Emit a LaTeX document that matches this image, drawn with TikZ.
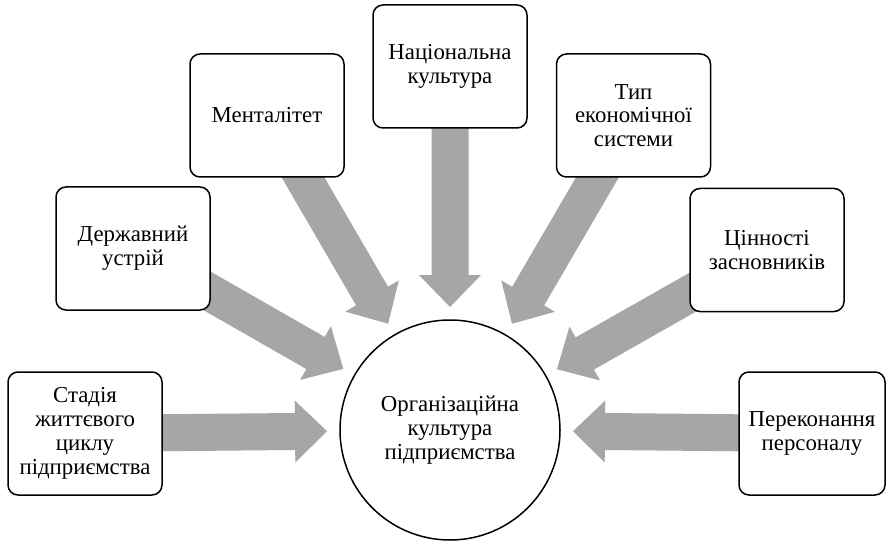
\documentclass[tikz,border=0pt]{standalone}
\usepackage{fontspec}
\setmainfont{Liberation Serif}
\usetikzlibrary{calc,backgrounds}
\definecolor{arrowgray}{HTML}{A6A6A6}
\tikzset{
  factor/.style={draw=black, line width=1.5pt, rounded corners=10pt, fill=white,
    minimum width=154pt, minimum height=123pt, align=center, inner sep=2pt,
    font=\fontsize{22.8}{23.8}\selectfont},
  core/.style={circle, draw=black, line width=1.5pt, fill=white,
    minimum size=220pt, align=center, inner sep=0pt,
    font=\fontsize{22.8}{24}\selectfont},
  blockfill/.style={fill=arrowgray}
}
\newcommand\blockarr[3]{%
  \coordinate (#3) at ($(#2)!32pt!(#1.center)$);
  \fill[blockfill] ($(#1.center)!18.5pt!90:(#2)$) -- ($(#3)!18.5pt!90:(#2)$)
    -- ($(#3)!31pt!90:(#2)$) -- (#2) -- ($(#3)!31pt!-90:(#2)$)
    -- ($(#3)!18.5pt!-90:(#2)$) -- ($(#1.center)!18.5pt!-90:(#2)$) -- cycle;
}
\begin{document}
\begin{tikzpicture}[x=1pt,y=-1pt]
\useasboundingbox (0,0) rectangle (888,545);
\clip (0,0) rectangle (888,545);
\node[core] (c) at (450,430) {Організаційна\\культура\\підприємства};
\node[factor] (b1) at (85,433.5) {Стадія\\життєвого\\циклу\\підприємства};
\node[factor] (b2) at (133,248.5) {Державний\\устрій};
\node[factor] (b3) at (267,115.5) {Менталітет};
\node[factor] (b4) at (450,66.5) {Національна\\культура};
\node[factor] (b5) at (633.5,115.5) {Тип\\економічної\\системи};
\node[factor] (b6) at (767,250) {Цінності\\засновників};
\node[factor, minimum width=146pt] (b7) at (812,433.5) {Переконання\\персоналу};
\foreach \i in {1,...,7}{
  \coordinate (t\i) at ($(c.center)!123pt!(b\i.center)$);
}
\begin{scope}[on background layer]
\fill[white] (0,0) rectangle (888,545);
\blockarr{b1}{t1}{h1}
\blockarr{b2}{t2}{h2}
\blockarr{b3}{t3}{h3}
\blockarr{b4}{t4}{h4}
\blockarr{b5}{t5}{h5}
\blockarr{b6}{t6}{h6}
\blockarr{b7}{t7}{h7}
\end{scope}
\end{tikzpicture}
\end{document}
